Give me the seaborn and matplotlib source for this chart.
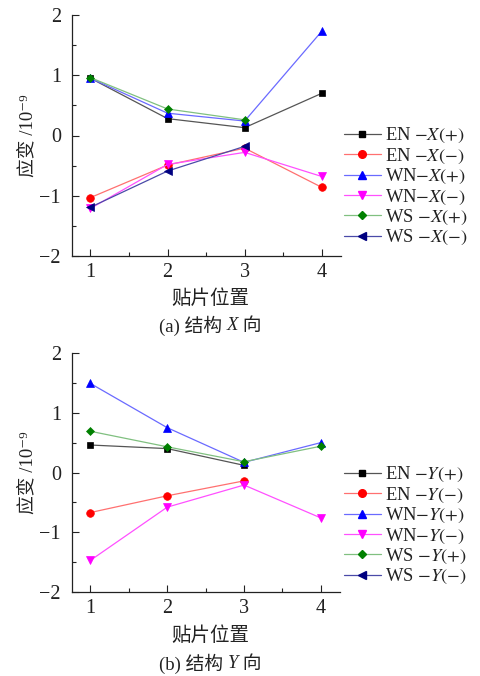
import numpy as np
import pandas as pd
import seaborn as sns
import matplotlib
matplotlib.use("Agg")
import matplotlib.pyplot as plt
from matplotlib.lines import Line2D
from matplotlib.ticker import MultipleLocator

sns.set_theme(style="ticks")
plt.rcParams['font.family'] = ['Liberation Serif', 'Noto Sans CJK SC', 'DejaVu Sans']
plt.rcParams['mathtext.fontset'] = 'stix'
plt.rcParams['axes.unicode_minus'] = True

positions = [1, 2, 3, 4]
nan = np.nan

# Panel (a): structure X direction
x_labels = ["EN $-X(+)$", "EN $-X(-)$", "WN$-X(+)$", "WN$-X(-)$", "WS $-X(+)$", "WS $-X(-)$"]
en_x_pos = [0.95, 0.28, 0.13, 0.70]
en_x_neg = [-1.03, -0.49, -0.21, -0.86]
wn_x_pos = [0.95, 0.37, 0.24, 1.73]
wn_x_neg = [-1.21, -0.48, -0.28, -0.68]
ws_x_pos = [0.96, 0.44, 0.26, nan]
ws_x_neg = [-1.19, -0.59, -0.18, nan]

# Panel (b): structure Y direction
y_labels = ["EN $-Y(+)$", "EN $-Y(-)$", "WN$-Y(+)$", "WN$-Y(-)$", "WS $-Y(+)$", "WS $-Y(-)$"]
en_y_pos = [0.46, 0.40, 0.12, nan]
en_y_neg = [-0.67, -0.39, -0.14, nan]
wn_y_pos = [1.49, 0.75, 0.17, 0.50]
wn_y_neg = [-1.47, -0.58, -0.21, -0.76]
ws_y_pos = [0.69, 0.43, 0.18, 0.44]
ws_y_neg = [nan, nan, nan, nan]

line_colors = ["#555555", "#ff7070", "#6a6aff", "#ff50ff", "#80c080", "#4a4aa8"]
marker_colors = ["#000000", "#ff0000", "#0000ff", "#ff00ff", "#008000", "#000080"]
markers = ["s", "o", "^", "v", "D", "<"]
msizes = [4.5, 5.5, 5.5, 5.5, 4.5, 5.5]

TXT = "#222222"
W, H = 481, 676
fig = plt.figure(figsize=(W / 100, H / 100), dpi=100)
renderer = fig.canvas.get_renderer()

def px_rect(l, t, r, b):
    return [l / W, 1 - b / H, (r - l) / W, (b - t) / H]

def centered_pieces(cx_px, cy_px, pieces, fontsize):
    texts = []
    for s, style in pieces:
        t = fig.text(0, 1 - cy_px / H, s, ha="left", va="center", fontsize=fontsize,
                     color=TXT, style=style)
        texts.append(t)
    widths = [t.get_window_extent(renderer).width for t in texts]
    x = cx_px - sum(widths) / 2
    for t, w in zip(texts, widths):
        t.set_x(x / W)
        x += w

def draw_panel(rect, data, labels, xlabel_y, caption_y, caption_pieces, legend_top):
    ax = fig.add_axes(px_rect(*rect))
    handles = []
    for vals, lab, lc, mc, mk, ms in zip(data, labels, line_colors, marker_colors, markers, msizes):
        df = pd.DataFrame({"pos": positions, "val": vals}).dropna()
        if len(df):
            sns.lineplot(data=df, x="pos", y="val", ax=ax, color=lc, lw=0.9,
                         marker=mk, markersize=ms, markerfacecolor=mc,
                         markeredgecolor=mc, markeredgewidth=0.5, legend=False)
        handles.append(Line2D([], [], color=lc, lw=0.9, marker=mk, markersize=ms,
                              markerfacecolor=mc, markeredgecolor=mc, label=lab))
    ax.set_xlim(0.76, 4.25)
    ax.set_ylim(-2, 2)
    ax.xaxis.set_major_locator(MultipleLocator(1))
    ax.xaxis.set_minor_locator(MultipleLocator(0.5))
    ax.yaxis.set_major_locator(MultipleLocator(1))
    ax.yaxis.set_minor_locator(MultipleLocator(0.5))
    ax.tick_params(which="both", direction="in", width=0.8, labelsize=14.5, colors=TXT)
    ax.tick_params(which="major", length=5, pad=5)
    ax.tick_params(which="minor", length=3)
    ax.tick_params(axis="y", pad=8)
    for s in ["top", "right"]:
        ax.spines[s].set_visible(False)
    for s in ["left", "bottom"]:
        ax.spines[s].set_linewidth(0.9)
        ax.spines[s].set_color(TXT)
    ax.set_xlabel("")
    ax.set_ylabel("应变 /10⁻⁹", fontsize=13.5, color=TXT, labelpad=2)
    cx = (rect[0] + rect[2]) / 2 + 4
    fig.text(cx / W, 1 - xlabel_y / H, "贴片位置", ha="center", va="center",
             fontsize=14, color=TXT)
    centered_pieces(cx, caption_y, caption_pieces, 13.5)
    leg = fig.legend(handles=handles, loc="upper left",
                     bbox_to_anchor=(344 / W, 1 - legend_top / H),
                     frameon=False, fontsize=13.3, handlelength=2.0, handletextpad=0.2,
                     labelspacing=0.07, borderpad=0, borderaxespad=0)
    for t in leg.get_texts():
        t.set_color(TXT)
    return ax

draw_panel((72, 15, 341, 256), [en_x_pos, en_x_neg, wn_x_pos, wn_x_neg, ws_x_pos, ws_x_neg],
           x_labels, 299, 326, [("(a) 结构 ", "normal"), ("X", "italic"), (" 向", "normal")], 126)
draw_panel((72, 353, 340, 592), [en_y_pos, en_y_neg, wn_y_pos, wn_y_neg, ws_y_pos, ws_y_neg],
           y_labels, 636, 664, [("(b) 结构 ", "normal"), ("Y", "italic"), (" 向", "normal")], 465)

fig.savefig("out.png", dpi=100)
